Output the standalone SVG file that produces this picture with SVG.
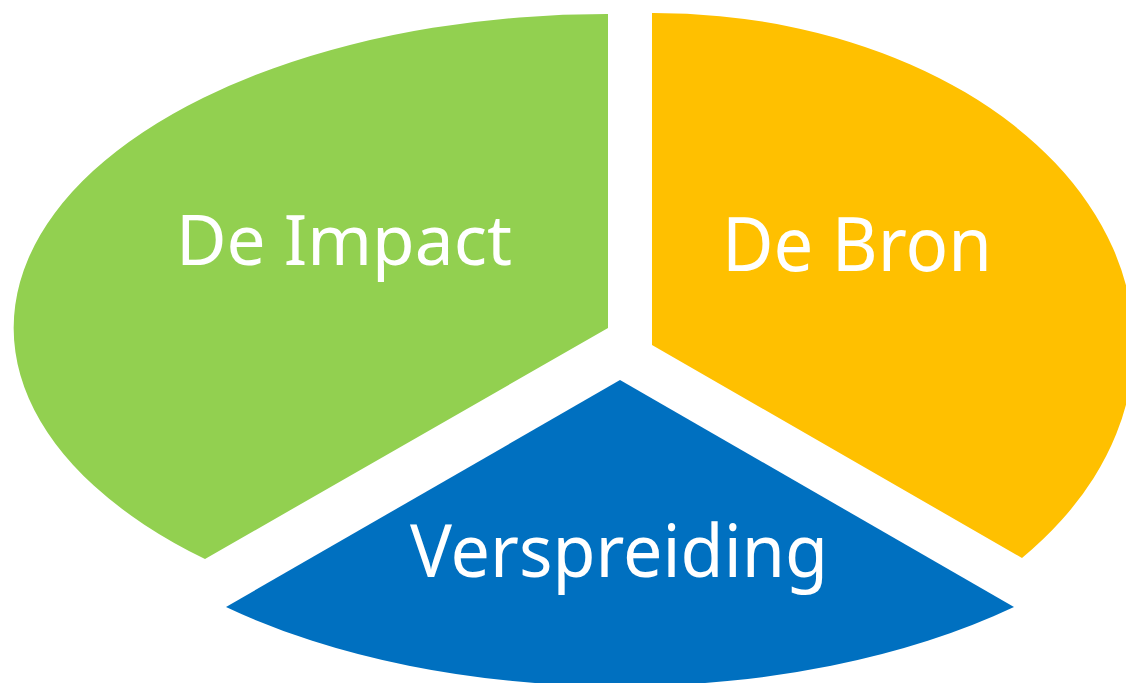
<svg xmlns="http://www.w3.org/2000/svg" width="1126" height="683" viewBox="0 0 1126 683">
<style>
.lbl{font-family:"Noto Sans","Open Sans","DejaVu Sans",sans-serif;fill:#FFFFFF;}
</style>
<rect width="1126" height="683" fill="#FFFFFF"/>
<g id="impact">
<path d="M608,328 L608,14 A593,314 0 0,0 205,559 Z" fill="#92D050"/>
<text class="lbl" x="176" y="265" font-size="70" textLength="336" lengthAdjust="spacingAndGlyphs">De Impact</text>
</g>
<g id="bron">
<path d="M652,345 L652,13 A480,332 0 0,1 1022,558 Z" fill="#FFC000"/>
<text class="lbl" x="722" y="271" font-size="75" textLength="270" lengthAdjust="spacingAndGlyphs">De Bron</text>
</g>
<g id="verspreiding">
<path d="M620,380 L1014,607 A586,305 0 0,1 226,607 Z" fill="#0070C0"/>
<text class="lbl" x="410" y="577" font-size="73" textLength="418" lengthAdjust="spacingAndGlyphs">Verspreiding</text>
</g>
<g id="connectors"></g>
</svg>
